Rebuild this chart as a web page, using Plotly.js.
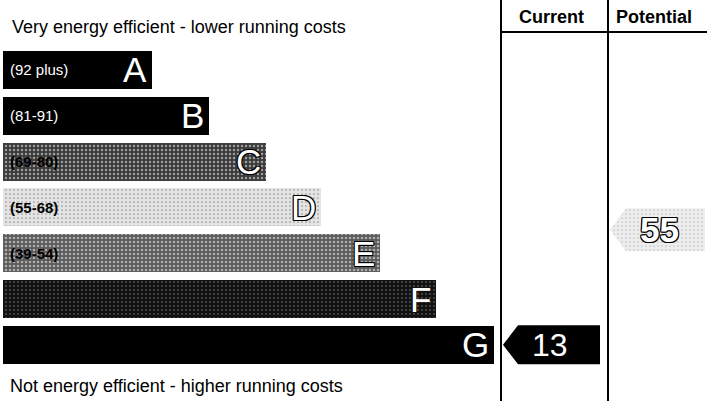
<!DOCTYPE html>
<html>
<head>
<meta charset="utf-8">
<script src="https://cdn.plot.ly/plotly-3.0.1.min.js"></script>
<style>html,body{margin:0;padding:0;background:#fff;}#chart{width:707px;height:401px;}</style>
</head>
<body>
<div id="chart"></div>
<script>
// ---- data ----
const bands = ['A', 'B', 'C', 'D', 'E', 'F', 'G'];
const bandRanges = ['(92 plus)', '(81-91)', '(69-80)', '(55-68)', '(39-54)', '', ''];
const barLengths = [149, 206, 263, 318, 377, 433, 491];
const currentRating = 13;
const currentBandIndex = 6;
const potentialRating = 55;
const potentialPosition = 3.49;
const topText = 'Very energy efficient - lower running costs';
const bottomText = 'Not energy efficient - higher running costs';
const columnHeaders = ['Current', 'Potential'];

// ---- styles ----
const bandBg = ['#000000', '#000000', '#3a3a3a', '#e4e4e4', '#5a5a5a', '#121212', '#000000'];
const bandFg = ['#000000', '#000000', '#b0b0b0', '#8a8a8a', '#c0c0c0', '#5a5a5a', '#000000'];
const bandShape = ['', '', '.', '.', '.', '.', ''];
const bandSolidity = [0.3, 0.3, 0.3, 0.15, 0.35, 0.1, 0.3];
const letterOutlined = [false, false, true, true, true, false, false];
const rangeColor = ['#ffffff', '#ffffff', '#000000', '#000000', '#000000', '#000000', '#000000'];
const FONT = 'Liberation Sans, Arial, sans-serif';
const OUTLINE = '1px 1px 0 #000, -1px -1px 0 #000, 1px -1px 0 #000, -1px 1px 0 #000, 0 1px 0 #000, 0 -1px 0 #000, 1px 0 0 #000, -1px 0 0 #000';

const W = 707, H = 401;
const barStart = 3;
const curCol = [501, 608];
const potCol = [608, 707];
const headerLineY = 32;
const yRange = [7.227, -1.528];

const idx = bands.map((b, i) => i);

const barTrace = {
  type: 'bar', orientation: 'h',
  x: barLengths, y: idx, base: barStart, width: 0.83,
  marker: {
    color: bandBg,
    line: {width: 0},
    pattern: {shape: bandShape, fgcolor: bandFg, size: 4, solidity: bandSolidity, fillmode: 'overlay'}
  },
  hoverinfo: 'skip', showlegend: false
};

function arrow(col, yc, half, notch, endPad, fill) {
  const tip = col[0] + 2, n = tip + notch, e = col[1] - endPad;
  return {
    type: 'scatter', mode: 'lines', fill: 'toself',
    x: [tip, n, e, e, n, tip],
    y: [yc, yc - half, yc - half, yc + half, yc + half, yc],
    line: {width: 0, color: fill}, fillcolor: fill,
    hoverinfo: 'skip', showlegend: false
  };
}
const curArrow = arrow(curCol, currentBandIndex, 0.426, 15, 8, '#000000');
const potArrow = arrow(potCol, potentialPosition, 0.47, 16, 2, '#ededed');
potArrow.fillpattern = {shape: '.', fgcolor: '#9a9a9a', size: 4, solidity: 0.15, fillmode: 'overlay'};

const annotations = [];
bands.forEach((b, i) => {
  const end = barStart + barLengths[i];
  annotations.push({
    x: end - 3, y: i, xref: 'x', yref: 'y', text: b, showarrow: false,
    xanchor: 'right', yanchor: 'middle',
    font: {family: FONT, size: 35, color: '#ffffff', shadow: letterOutlined[i] ? OUTLINE : 'none'}
  });
  if (bandRanges[i]) {
    annotations.push({
      x: 8, y: i, xref: 'x', yref: 'y', text: bandRanges[i], showarrow: false,
      xanchor: 'left', yanchor: 'middle',
      font: {family: FONT, size: 15, color: rangeColor[i], weight: i >= 2 ? 700 : 400}
    });
  }
});
annotations.push({
  x: 10, y: 1 - 27 / H, xref: 'x', yref: 'paper', text: topText, showarrow: false,
  xanchor: 'left', yanchor: 'middle', font: {family: FONT, size: 18, color: '#000'}
});
annotations.push({
  x: 8, y: 1 - 386 / H, xref: 'x', yref: 'paper', text: bottomText, showarrow: false,
  xanchor: 'left', yanchor: 'middle', font: {family: FONT, size: 18, color: '#000'}
});
annotations.push({
  x: (curCol[0] + curCol[1]) / 2 - 3, y: 1 - 17 / H, xref: 'x', yref: 'paper', text: columnHeaders[0], showarrow: false,
  xanchor: 'center', yanchor: 'middle', font: {family: FONT, size: 18, color: '#000', weight: 700}
});
annotations.push({
  x: (potCol[0] + potCol[1]) / 2 - 4, y: 1 - 17 / H, xref: 'x', yref: 'paper', text: columnHeaders[1], showarrow: false,
  xanchor: 'center', yanchor: 'middle', font: {family: FONT, size: 18, color: '#000', weight: 700}
});
annotations.push({
  x: 550, y: currentBandIndex, xref: 'x', yref: 'y', text: String(currentRating), showarrow: false,
  xanchor: 'center', yanchor: 'middle', font: {family: FONT, size: 32, color: '#ffffff'}
});
annotations.push({
  x: 659, y: potentialPosition, xref: 'x', yref: 'y', text: String(potentialRating), showarrow: false,
  xanchor: 'center', yanchor: 'middle', font: {family: FONT, size: 35, color: '#ffffff', weight: 700, shadow: OUTLINE}
});

const shapes = [
  {type: 'line', xref: 'x', yref: 'paper', x0: curCol[0], x1: curCol[0], y0: 0, y1: 1, line: {color: '#000', width: 2}},
  {type: 'line', xref: 'x', yref: 'paper', x0: curCol[1], x1: curCol[1], y0: 0, y1: 1, line: {color: '#000', width: 2}},
  {type: 'line', xref: 'x', yref: 'paper', x0: curCol[0], x1: W, y0: 1 - headerLineY / H, y1: 1 - headerLineY / H, line: {color: '#000', width: 2}}
];

const layout = {
  width: W, height: H,
  margin: {l: 0, r: 0, t: 0, b: 0, pad: 0},
  paper_bgcolor: '#ffffff', plot_bgcolor: '#ffffff',
  xaxis: {range: [0, W], visible: false, fixedrange: true},
  yaxis: {range: yRange, visible: false, fixedrange: true},
  showlegend: false,
  annotations: annotations,
  shapes: shapes,
  bargap: 0
};

Plotly.newPlot('chart', [barTrace, curArrow, potArrow], layout, {staticPlot: true, displayModeBar: false});
</script>
</body>
</html>
